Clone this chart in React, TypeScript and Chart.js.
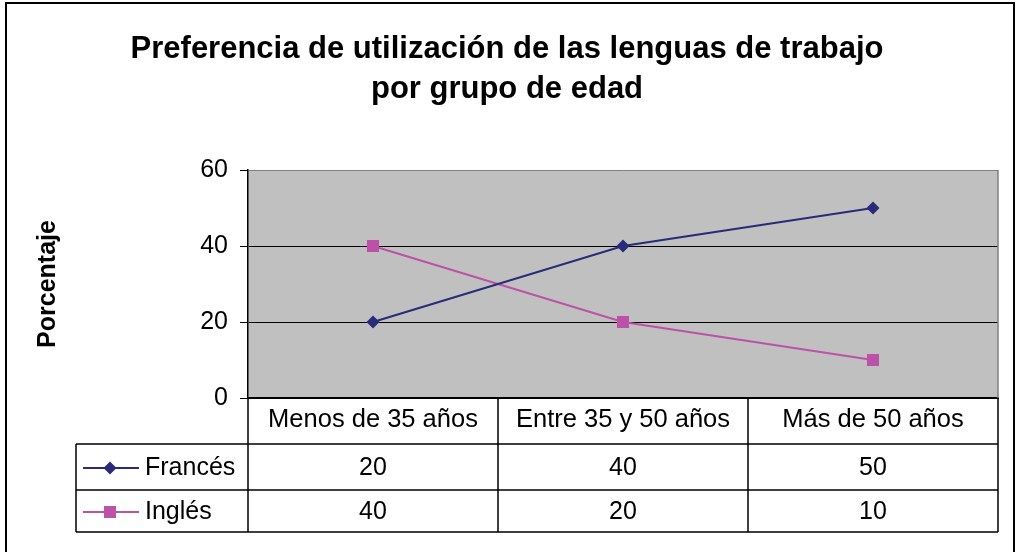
import React, { useEffect, useRef } from 'react';
import { Chart, registerables } from 'chart.js';

Chart.register(...registerables);

const categories = ['Menos de 35 años', 'Entre 35 y 50 años', 'Más de 50 años'];
const seriesNames = ['Francés', 'Inglés'];
const frances = [20, 40, 50];
const ingles = [40, 20, 10];
const yTicks = [0, 20, 40, 60];
const titleLines = ['Preferencia de utilización de las lenguas de trabajo', 'por grupo de edad'];
const yTitle = 'Porcentaje';

const FONT = "'Liberation Sans', Arial, sans-serif";
const NAVY = '#2A2A7A';
const PINK = '#BC52A8';

function drawMarker(ctx: CanvasRenderingContext2D, style: string, x: number, y: number, color: string) {
  ctx.save();
  ctx.fillStyle = color;
  ctx.beginPath();
  if (style === 'rectRot') {
    const r = 6.5;
    ctx.moveTo(x, y - r);
    ctx.lineTo(x + r, y);
    ctx.lineTo(x, y + r);
    ctx.lineTo(x - r, y);
    ctx.closePath();
  } else {
    const s = 6;
    ctx.rect(x - s, y - s, 2 * s, 2 * s);
  }
  ctx.fill();
  ctx.restore();
}

const plotBgPlugin = {
  id: 'plotBg',
  beforeDraw(chart: any) {
    const { ctx, chartArea } = chart;
    ctx.save();
    ctx.fillStyle = '#C0C0C0';
    ctx.fillRect(chartArea.left, chartArea.top, chartArea.right - chartArea.left, chartArea.bottom - chartArea.top);
    ctx.restore();
  },
  afterDraw(chart: any) {
    const { ctx, chartArea } = chart;
    ctx.save();
    ctx.strokeStyle = '#000';
    ctx.lineWidth = 2;
    ctx.strokeRect(6, 3, 1008, 600);
    ctx.strokeStyle = '#808080';
    ctx.lineWidth = 1.5;
    ctx.beginPath();
    ctx.moveTo(chartArea.right, chartArea.top);
    ctx.lineTo(chartArea.right, chartArea.bottom);
    ctx.stroke();
    ctx.restore();
  },
};

const dataTablePlugin = {
  id: 'dataTable',
  afterDraw(chart: any) {
    const { ctx, chartArea } = chart;
    const xs = chart.scales.x;
    const step = xs.getPixelForValue(1) - xs.getPixelForValue(0);
    const edges: number[] = [];
    for (let i = 0; i < categories.length; i++) edges.push(xs.getPixelForValue(i) - step / 2);
    edges.push(xs.getPixelForValue(categories.length - 1) + step / 2);
    const legendLeft = chartArea.left - 172;
    const top = chartArea.bottom;
    const rowBounds = [top, top + 46, top + 92, top + 134];
    ctx.save();
    ctx.strokeStyle = '#000';
    ctx.lineWidth = 1.5;
    ctx.beginPath();
    for (let r = 1; r < rowBounds.length; r++) {
      ctx.moveTo(legendLeft, rowBounds[r]);
      ctx.lineTo(edges[edges.length - 1], rowBounds[r]);
    }
    ctx.moveTo(legendLeft, rowBounds[1]);
    ctx.lineTo(legendLeft, rowBounds[3]);
    edges.forEach((e) => {
      ctx.moveTo(e, rowBounds[0]);
      ctx.lineTo(e, rowBounds[3]);
    });
    ctx.stroke();

    const rows = [
      { name: seriesNames[0], values: frances, color: NAVY, style: 'rectRot' },
      { name: seriesNames[1], values: ingles, color: PINK, style: 'rect' },
    ];
    ctx.font = `25px ${FONT}`;
    ctx.textBaseline = 'middle';
    rows.forEach((row, r) => {
      const cy = (rowBounds[r + 1] + rowBounds[r + 2]) / 2 + 1;
      ctx.strokeStyle = row.color;
      ctx.lineWidth = 2;
      ctx.beginPath();
      ctx.moveTo(legendLeft + 7, cy);
      ctx.lineTo(legendLeft + 63, cy);
      ctx.stroke();
      drawMarker(ctx, row.style, legendLeft + 34, cy, row.color);
      ctx.fillStyle = '#000';
      ctx.textAlign = 'left';
      ctx.fillText(row.name, legendLeft + 69, cy);
      ctx.textAlign = 'center';
      row.values.forEach((v, i) => {
        ctx.fillText(String(v), xs.getPixelForValue(i), cy);
      });
    });
    ctx.restore();
  },
};

export default function App() {
  const ref = useRef<HTMLCanvasElement | null>(null);
  useEffect(() => {
    if (!ref.current) return;
    Chart.defaults.font.family = FONT;
    const chart = new Chart(ref.current, {
      type: 'line',
      data: {
        labels: categories,
        datasets: [
          {
            label: seriesNames[0],
            data: frances,
            borderColor: NAVY,
            backgroundColor: NAVY,
            borderWidth: 2,
            pointStyle: 'rectRot',
            pointRadius: 6.5,
            pointBorderWidth: 0,
            pointBackgroundColor: NAVY,
            tension: 0,
          },
          {
            label: seriesNames[1],
            data: ingles,
            borderColor: PINK,
            backgroundColor: PINK,
            borderWidth: 2,
            pointStyle: 'rect',
            pointRadius: 8.5,
            pointBorderWidth: 0,
            pointBackgroundColor: PINK,
            tension: 0,
          },
        ],
      },
      options: {
        responsive: false,
        animation: false,
        layout: { padding: { left: 16, right: 19, top: 0, bottom: 0 } },
        plugins: {
          legend: { display: false },
          tooltip: { enabled: false },
          title: {
            display: true,
            text: titleLines,
            color: '#000',
            font: { family: FONT, size: 31, weight: 'bold', lineHeight: 40 / 31 },
            padding: { top: 29, bottom: 61 },
          },
        },
        scales: {
          x: {
            type: 'category',
            offset: true,
            grid: { display: false, drawTicks: false },
            border: { display: true, color: '#000', width: 2 },
            ticks: { color: '#000', font: { family: FONT, size: 25.5 }, padding: 7, maxRotation: 0, autoSkip: false },
            afterFit: (scale: any) => {
              scale.height = 154;
            },
          },
          y: {
            min: 0,
            max: 60,
            afterBuildTicks: (scale: any) => {
              scale.ticks = yTicks.map((v) => ({ value: v }));
            },
            grid: {
              color: (c: any) => (c.tick && c.tick.value === 60 ? '#808080' : '#000'),
              lineWidth: 1,
              tickLength: 8,
              tickColor: '#000',
              drawTicks: true,
            },
            border: { display: true, color: '#000', width: 1.5 },
            ticks: { color: '#000', font: { family: FONT, size: 25 }, padding: 12 },
            title: {
              display: true,
              text: yTitle,
              color: '#000',
              font: { family: FONT, size: 25, weight: 'bold' },
              padding: { top: 17, bottom: 0 },
            },
            afterFit: (scale: any) => {
              scale.width = 232;
            },
          },
        },
      },
      plugins: [plotBgPlugin, dataTablePlugin],
    });
    return () => chart.destroy();
  }, []);
  return (
    <div style={{ position: 'absolute', left: 0, top: 0, width: 1017, height: 552, background: '#fff' }}>
      <canvas ref={ref} width={1017} height={552} style={{ display: 'block' }} />
    </div>
  );
}
